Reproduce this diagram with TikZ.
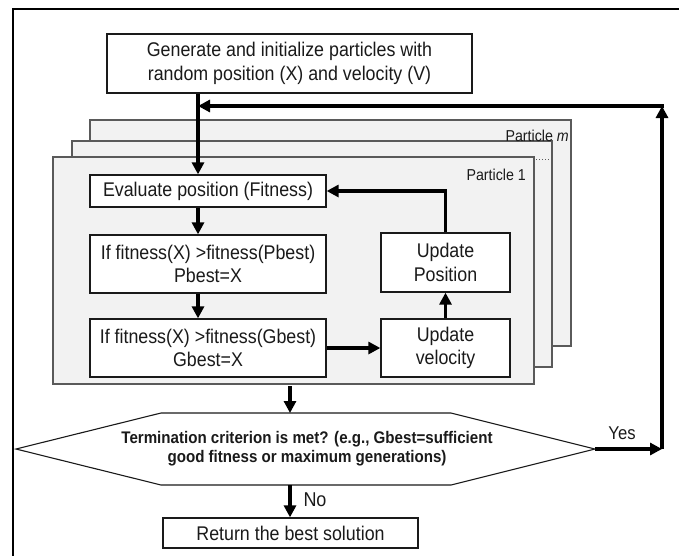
\documentclass[tikz,border=0pt]{standalone}
\usepackage{fontspec}
\setmainfont{Liberation Sans}
\newfontfamily\narrowsans[FakeStretch=0.9]{Liberation Sans}
\usetikzlibrary{arrows.meta}
\definecolor{panel}{HTML}{F2F2F2}
\definecolor{edge}{HTML}{5A5A5A}
\definecolor{ink}{HTML}{1A1A1A}
\tikzset{
  box/.style={draw=ink, line width=1.3pt, fill=white, align=center, inner sep=0pt,
    font=\narrowsans\fontsize{19.8}{23.5}\selectfont, text=ink},
  card/.style={draw=edge, line width=1.3pt, fill=panel},
  arr/.style={line width=3.6pt, -{Triangle[length=12pt,width=12pt]}},
  lbl/.style={font=\narrowsans\fontsize{15.8}{18}\selectfont, text=ink, inner sep=0pt},
}
\begin{document}
\begin{tikzpicture}[x=1pt, y=-1pt]
  \useasboundingbox (0,0) rectangle (679,555);
  \clip (0,0) rectangle (679,555);

  % outer frame
  \draw[line width=2.7pt] (13,570) -- (13,9) -- (700,9);

  % stacked particle cards
  \draw[card] (90,120) rectangle (571,346);
  \draw[card] (72,141) rectangle (552,367);
  \draw[card] (53,157) rectangle (534,384);
  \node[lbl, anchor=east] (pm) at (569,136) {Particle \textit{m}};
  \draw[edge, line width=1pt, dotted] (536,159) -- (550,159);
  \node[lbl, anchor=east] (p1) at (526,175) {Particle 1};

  % process boxes
  \node[box, minimum width=365pt, minimum height=59pt] (init) at (289.5,63.5)
    {Generate and initialize particles with\\random position (X) and velocity (V)};
  \node[box, minimum width=236pt, minimum height=32pt] (eval) at (208,191)
    {Evaluate position (Fitness)};
  \node[box, minimum width=236pt, minimum height=58pt] (pb) at (208,264)
    {If fitness(X) >fitness(Pbest)\\Pbest=X};
  \node[box, minimum width=236pt, minimum height=58pt] (gb) at (208,348)
    {If fitness(X) >fitness(Gbest)\\Gbest=X};
  \node[box, minimum width=129pt, minimum height=59pt] (upos) at (445.5,262.5)
    {Update\\Position};
  \node[box, minimum width=129pt, minimum height=58pt] (uvel) at (445.5,348)
    {Update\\velocity};
  \node[box, minimum width=255pt, minimum height=30pt] (ret) at (290.5,533)
    {Return the best solution};

  % termination test (hexagon)
  \coordinate (hL) at (16,449);
  \coordinate (hTL) at (161,413);
  \coordinate (hTR) at (451,413);
  \coordinate (hR) at (595,449);
  \coordinate (hBR) at (451,485);
  \coordinate (hBL) at (161,485);
  \draw[ink, line width=1.1pt, fill=white] (hL) -- (hTL) -- (hTR) -- (hR) -- (hBR) -- (hBL) -- cycle;
  \node[align=center, text=ink, font=\narrowsans\bfseries\fontsize{16.8}{19}\selectfont] (dec) at (307,449)
    {Termination criterion is met? (e.g., Gbest=sufficient\\good fitness or maximum generations)};

  % connectors
  \coordinate (ax) at (198,0);
  \coordinate (mx) at (290,0);
  \coordinate (rx) at (662,0);
  \coordinate (p1b) at (290,386);
  \draw[arr] (init.south -| ax) -- (eval.north -| ax);
  \draw[arr] (eval.south -| ax) -- (pb.north -| ax);
  \draw[arr] (pb.south -| ax) -- (gb.north -| ax);
  \draw[arr] (gb.east) -- (uvel.west);
  \draw[arr] (uvel.north) -- (upos.south);
  \draw[arr] (upos.north) |- (eval.east);
  \draw[arr] (p1b) -- (mx |- hTL);
  \draw[arr] (mx |- hBL) -- (ret.north -| mx);
  \node[font=\narrowsans\fontsize{20}{22}\selectfont, text=ink, inner sep=0pt] (no) at (315,500) {No};

  % loop back when the criterion is met
  \coordinate (c1) at (rx |- hR);
  \coordinate (c2) at (662,106);
  \coordinate (c3) at (ax |- c2);
  \draw[arr] (hR) -- (c1);
  \draw[arr] (c1) -- (c2);
  \draw[arr, shorten <=-1.8pt] (c2) -- (c3);
  \node[font=\narrowsans\fontsize{18.5}{22}\selectfont, text=ink, inner sep=0pt] (yes) at (622,433) {Yes};
\end{tikzpicture}
\end{document}
